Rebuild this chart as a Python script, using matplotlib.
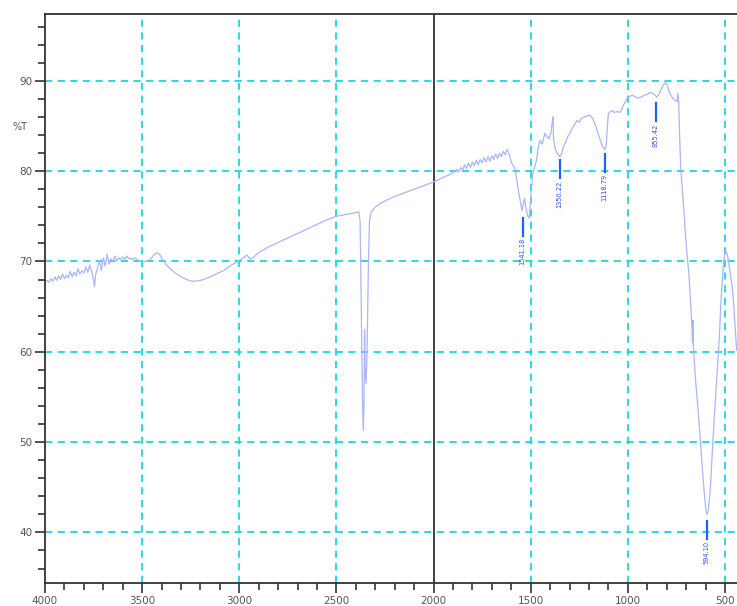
import numpy as np
import matplotlib.pyplot as plt
from matplotlib.ticker import MultipleLocator

# IR spectrum (wavenumber, %T)
wavenumber = [
    4000, 3990, 3980, 3970, 3960, 3950, 3940, 3930, 3920, 3910,
    3900, 3890, 3880, 3870, 3860, 3850, 3840, 3830, 3820, 3810,
    3800, 3790, 3780, 3770, 3760, 3750, 3745, 3740, 3730, 3720,
    3710, 3700, 3690, 3680, 3670, 3660, 3650, 3640, 3630, 3620,
    3610, 3600, 3590, 3580, 3570, 3560, 3550, 3540, 3530, 3520,
    3510, 3500, 3480, 3460, 3440, 3425, 3410, 3395, 3370, 3340,
    3300, 3260, 3240, 3200, 3160, 3120, 3080, 3040, 3000, 2980,
    2960, 2945, 2930, 2900, 2850, 2800, 2750, 2700, 2650, 2600,
    2550, 2500, 2450, 2400, 2385, 2378, 2372, 2366, 2362, 2358,
    2355, 2352, 2348, 2344, 2340, 2335, 2330, 2320, 2300, 2270,
    2250, 2200, 2150, 2100, 2050, 2000, 1950, 1920, 1900, 1880,
    1870, 1860, 1850, 1840, 1830, 1820, 1810, 1800, 1790, 1780,
    1770, 1760, 1750, 1740, 1730, 1720, 1710, 1700, 1690, 1680,
    1670, 1660, 1650, 1640, 1630, 1622, 1612, 1600, 1590, 1580,
    1570, 1560, 1552, 1545, 1538, 1532, 1525, 1515, 1508, 1500,
    1490, 1480, 1470, 1460, 1452, 1440, 1427, 1415, 1406, 1395,
    1388, 1385, 1382, 1375, 1365, 1350, 1340, 1330, 1320, 1310,
    1298, 1285, 1270, 1262, 1250, 1240, 1225, 1210, 1195, 1180,
    1164, 1150, 1133, 1120, 1112, 1105, 1100, 1090, 1082, 1070,
    1055, 1041, 1030, 1020, 1005, 990, 975, 960, 945, 930,
    915, 900, 885, 871, 860, 850, 840, 830, 818, 805,
    795, 785, 773, 760, 747, 742, 738, 732, 727, 716,
    706, 696, 686, 678, 670, 667, 665, 662, 655, 650,
    640, 629, 618, 608, 600, 594, 588, 582, 575, 565,
    557, 547, 536, 528, 521, 512, 505, 500, 493, 485,
    475, 465, 459, 450, 440,
]
transmittance = [
    67.8, 67.9, 67.7, 68.1, 67.8, 68.3, 67.9, 68.4, 68.0, 68.6,
    68.1, 68.5, 68.2, 68.9, 68.3, 68.8, 68.4, 69.2, 68.6, 69.0,
    68.7, 69.4, 68.8, 69.6, 68.9, 68.0, 67.2, 68.5, 69.3, 70.1,
    69.0, 70.4, 69.5, 70.8, 69.7, 70.3, 70.0, 70.6, 70.1, 70.4,
    70.2, 70.5, 70.2, 70.6, 70.3, 70.4, 70.2, 70.4, 70.3, 70.1,
    70.0, 70.0, 70.0, 70.2, 70.7, 71.0, 70.8, 70.2, 69.5, 68.9,
    68.3, 67.9, 67.8, 67.9, 68.2, 68.6, 69.0, 69.6, 70.1, 70.4,
    70.7, 70.3, 70.4, 71.0, 71.6, 72.1, 72.6, 73.1, 73.6, 74.1,
    74.6, 75.0, 75.2, 75.4, 75.5, 74.5, 65.0, 55.0, 51.3, 54.0,
    62.5, 58.0, 56.5, 58.5, 63.0, 70.0, 74.5, 75.5, 76.0, 76.5,
    76.7, 77.2, 77.6, 78.0, 78.4, 78.8, 79.3, 79.6, 79.8, 80.2,
    79.9, 80.4, 80.1, 80.7, 80.3, 80.9, 80.4, 81.0, 80.6, 81.2,
    80.7, 81.3, 80.9, 81.5, 81.0, 81.6, 81.1, 81.7, 81.3, 81.9,
    81.4, 82.0, 81.6, 82.2, 81.8, 82.4, 82.0, 81.0, 80.6, 80.2,
    78.8, 77.4, 76.5, 75.6, 76.4, 77.0, 76.0, 75.0, 74.8, 77.0,
    79.6, 80.4, 81.2, 82.8, 83.4, 83.0, 84.2, 83.8, 83.6, 84.3,
    85.6, 86.0, 83.5, 82.6, 82.0, 81.6, 82.0, 82.8, 83.2, 83.8,
    84.2, 84.8, 85.3, 85.6, 85.4, 85.8, 86.0, 86.1, 86.2, 85.8,
    84.9, 84.0, 82.9, 82.4, 82.6, 85.0, 86.4, 86.6, 86.7, 86.5,
    86.6, 86.5, 86.9, 87.4, 88.0, 88.3, 88.4, 88.2, 88.1, 88.2,
    88.4, 88.5, 88.7, 88.6, 88.4, 88.2, 88.5, 89.0, 89.5, 89.8,
    89.4, 88.7, 88.2, 87.9, 87.7, 88.6, 87.5, 83.0, 80.1, 77.0,
    73.8, 71.0, 68.7, 66.0, 62.7, 61.0, 63.5, 60.5, 58.0, 56.5,
    54.0, 51.0, 47.5, 44.8, 42.8, 42.0, 42.2, 43.2, 45.0, 49.0,
    52.0, 55.5, 59.1, 62.0, 65.4, 68.5, 70.3, 71.0, 71.1, 70.5,
    69.0, 67.5, 66.5, 63.5, 60.2,
]

# labelled peaks
peak_labels = ['1541.18', '1350.22', '1118.79', '855.42', '594.10']
peak_wn = [1541.18, 1350.22, 1118.79, 855.42, 594.10]
peak_T = [75.4, 81.8, 82.5, 88.1, 41.9]

fig = plt.figure(figsize=(7.37, 6.06), dpi=100)
ax = fig.add_axes([45 / 737, 23 / 606, 692 / 737, 569 / 606])

ax.plot(wavenumber, transmittance, color='#aab6f6', lw=0.9)

# dashed grid, with a solid line at 2000 where the scale changes
for x in [3500, 3000, 2500, 1500, 1000, 500]:
    ax.axvline(x, color='#1ad6e0', ls=(0, (4, 3)), lw=1.3, zorder=0)
for y in [90, 80, 70, 60, 50, 40]:
    ax.axhline(y, color='#1ad6e0', ls=(0, (4, 3)), lw=1.3, zorder=0)
ax.axvline(2000, color='#333333', lw=1.3, zorder=1)

for lab, w, t in zip(peak_labels, peak_wn, peak_T):
    ax.plot([w, w], [t - 0.6, t - 2.6], color='#2060ff', lw=1.6)
    ax.text(w, t - 2.8, lab, rotation=90, ha='center', va='top',
            fontsize=4.8, color='#3050e0')

ax.set_xlim(4000, 438)
ax.set_ylim(34.4, 97.4)
ax.xaxis.set_major_locator(MultipleLocator(500))
ax.xaxis.set_minor_locator(MultipleLocator(100))
ax.yaxis.set_major_locator(MultipleLocator(10))
ax.yaxis.set_minor_locator(MultipleLocator(2))
ax.set_yticks([40, 50, 60, 70, 80, 90])

ax.tick_params(which='both', direction='out', color='#333333', width=1.2,
               labelsize=7.5, labelcolor='#5a5555')
ax.tick_params(which='major', length=7, pad=2)
ax.tick_params(which='minor', length=5)

for side in ['left', 'bottom', 'top']:
    ax.spines[side].set_color('#333333')
    ax.spines[side].set_linewidth(1.3)
ax.spines['right'].set_visible(False)

fig.text(20 / 737, 1 - 127 / 606, '%T', fontsize=7, color='#5a5555',
         ha='center', va='center')

fig.savefig('out.png', dpi=100)
